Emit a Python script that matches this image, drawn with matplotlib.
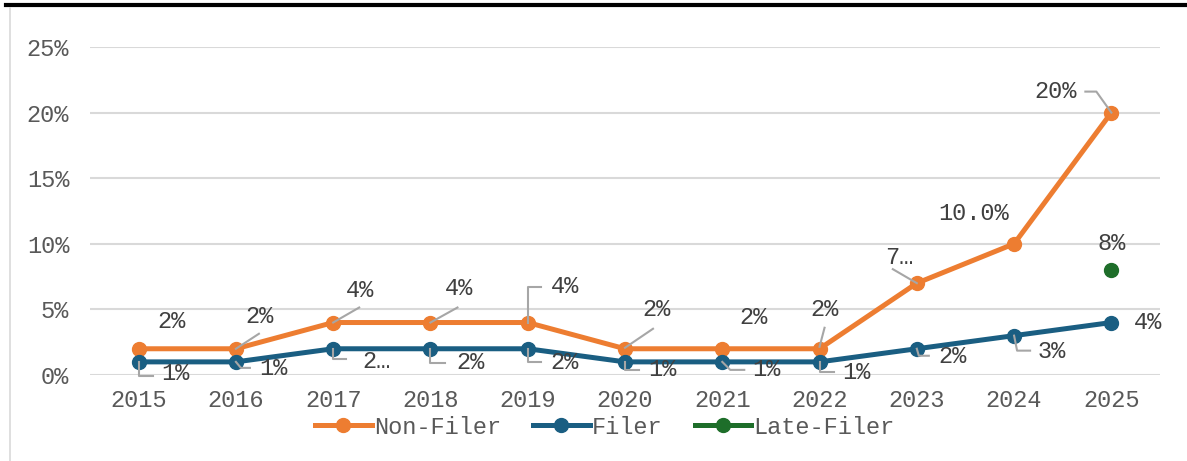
import matplotlib
matplotlib.use("Agg")
import matplotlib.pyplot as plt
from matplotlib.lines import Line2D
from matplotlib.transforms import IdentityTransform

years = ["2015", "2016", "2017", "2018", "2019", "2020", "2021", "2022", "2023", "2024", "2025"]
non_filer = [2, 2, 4, 4, 4, 2, 2, 2, 7, 10, 20]
filer = [1, 1, 2, 2, 2, 1, 1, 1, 2, 3, 4]
late_filer = [None] * 10 + [8]

non_filer_labels = ["2%", "2%", "4%", "4%", "4%", "2%", "2%", "2%", "7…", "10.0%", "20%"]
filer_labels = ["1%", "1%", "2…", "2%", "2%", "1%", "1%", "1%", "2%", "3%", "4%"]
late_labels = [None] * 10 + ["8%"]

# label offsets (pixels, image y down) and leader polylines
nf_off = [(33, -27), (24, -32), (27, -32), (29, -34), (37, -36), (31, -39), (31, -31),
          (5, -39), (-18, -26), (-41, -30), (-56, -21)]
nf_lead = [None, [(0, 0), (23, -15)], [(0, 0), (26, -15)], [(0, 0), (27, -15)],
           [(0, 0), (0, -36), (13, -36)], [(0, -1), (28, -20)], None,
           [(0, -2), (5, -21)], [(-24, -14), (0, 0)], None,
           [(0, 0), (-15, -21), (-26, -21)]]
f_off = [(37, 12), (37, 7), (43, 13), (40, 14), (37, 14), (37, 8), (44, 8), (37, 11),
         (36, 8), (38, 16), (37, 0)]
f_lead = [[(0, 0), (0, 14), (14, 14)], [(0, 0), (5, 6), (14, 6)], [(0, 0), (0, 10), (13, 10)],
          [(0, 0), (0, 14), (15, 14)], [(0, 0), (0, 13), (13, 13)], [(0, 0), (0, 8), (14, 8)],
          [(0, 0), (8, 8), (22, 8)], [(0, 0), (0, 10), (14, 10)], [(0, 0), (2, 7), (12, 7)],
          [(0, 0), (3, 15), (16, 15)], None]
late_off = (0, -27)

ORANGE = "#ED7D31"
BLUE = "#1A5E82"
GREEN = "#1E6E2A"
FONT = ["Liberation Mono", "DejaVu Sans Mono"]
plt.rcParams["font.family"] = FONT
FS = 17

W, H = 1187, 461
fig = plt.figure(figsize=(W / 100, H / 100), dpi=100)
ax = fig.add_axes([90 / W, 1 - 375 / H, (1160 - 90) / W, (375 - 47) / H])

x = list(range(len(years)))
lw = 3.6
ms = 10
ax.plot(x, non_filer, color=ORANGE, lw=lw, marker="o", ms=ms, clip_on=False, zorder=3,
        solid_capstyle="round")
ax.plot(x, filer, color=BLUE, lw=lw, marker="o", ms=ms, clip_on=False, zorder=3,
        solid_capstyle="round")
lx = [i for i, v in enumerate(late_filer) if v is not None]
ly = [v for v in late_filer if v is not None]
ax.plot(lx, ly, color=GREEN, lw=lw, marker="o", ms=ms, clip_on=False, zorder=3)

ax.set_xlim(-0.5, len(years) - 0.5)
ax.set_ylim(0, 25)
ax.set_yticks([0, 5, 10, 15, 20, 25])
ax.set_yticklabels([f"{v}%" for v in [0, 5, 10, 15, 20, 25]])
ax.set_xticks(x)
ax.set_xticklabels(years)
ax.grid(axis="y", color="#D9D9D9", lw=1.5)
ax.set_axisbelow(True)
for s in ax.spines.values():
    s.set_visible(False)
ax.tick_params(axis="both", length=0, labelsize=FS, labelcolor="#595959")
ax.tick_params(axis="y", pad=15)
ax.tick_params(axis="x", pad=10)

LABEL_COLOR = "#404040"
LEAD_COLOR = "#A6A6A6"

fig.canvas.draw()


def add_label(xi, yv, text, off, lead):
    ax.annotate(text, (xi, yv), xytext=(off[0], -off[1]), textcoords="offset pixels",
                ha="center", va="center", fontsize=FS, color=LABEL_COLOR, zorder=5)
    if lead:
        px, py = ax.transData.transform((xi, yv))
        xs = [px + dx for dx, dy in lead]
        ys = [py - dy for dx, dy in lead]
        fig.add_artist(Line2D(xs, ys, transform=IdentityTransform(), color=LEAD_COLOR,
                              lw=1.5, zorder=2))


for i in x:
    add_label(i, non_filer[i], non_filer_labels[i], nf_off[i], nf_lead[i])
    add_label(i, filer[i], filer_labels[i], f_off[i], f_lead[i])
    if late_labels[i] is not None:
        add_label(i, late_filer[i], late_labels[i], late_off, None)

handles = [Line2D([], [], color=c, lw=lw, marker="o", ms=ms) for c in (ORANGE, BLUE, GREEN)]
fig.legend(handles, ["Non-Filer", "Filer", "Late-Filer"], loc="center",
           bbox_to_anchor=(605 / W, 1 - 427 / H), ncol=3, frameon=False, fontsize=FS,
           labelcolor="#595959", handlelength=2.4, handletextpad=0.1, columnspacing=1.35,
           borderpad=0)

# frame decorations
fig.add_artist(Line2D([6 / W, 1], [1 - 5.5 / H, 1 - 5.5 / H], color="black", lw=3))
fig.add_artist(Line2D([10 / W, 10 / W], [0, 1 - 8 / H], color="#D9D9D9", lw=1.2))

fig.savefig("out.png", dpi=100)
